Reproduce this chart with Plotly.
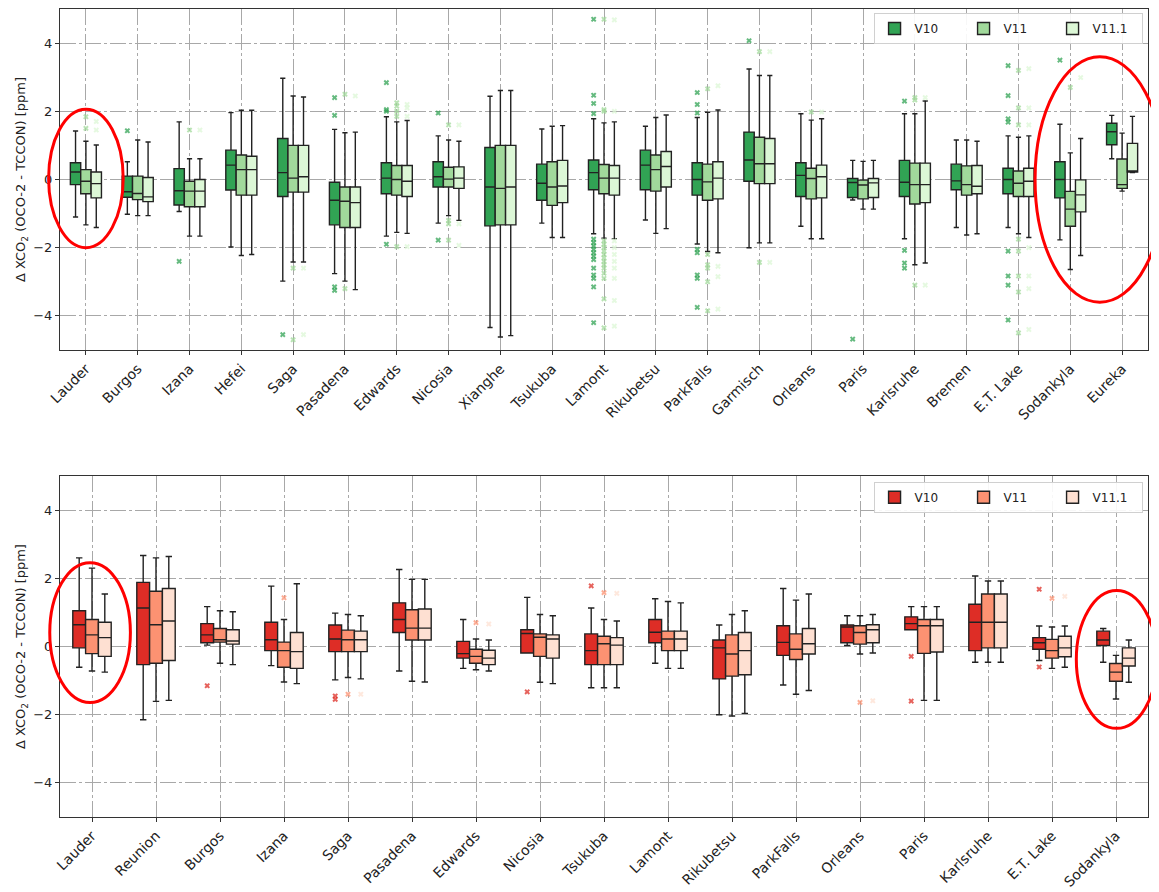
import plotly.graph_objects as go

# ---------------- DATA ----------------
versions = ["V10", "V11", "V11.1"]
greens = ["#31a354", "#a1d99b", "#dcf7d6"]
reds = ["#de2d26", "#fc9272", "#fee0d2"]

top_stations = ["Lauder", "Burgos", "Izana", "Hefei", "Saga", "Pasadena", "Edwards", "Nicosia",
                "Xianghe", "Tsukuba", "Lamont", "Rikubetsu", "ParkFalls", "Garmisch", "Orleans",
                "Paris", "Karlsruhe", "Bremen", "E.T. Lake", "Sodankyla", "Eureka"]

top_v10_q1 = [-0.15, -0.52, -0.75, -0.31, -0.50, -1.33, -0.42, -0.22, -1.36, -0.61, -0.30, -0.30, -0.46, -0.05, -0.50, -0.53, -0.50, -0.30, -0.42, -0.54, 1.02]
top_v10_med = [0.22, -0.36, -0.33, 0.42, 0.20, -0.61, 0.04, 0.08, -0.22, -0.11, 0.20, 0.42, 0.00, 0.57, 0.12, -0.09, -0.08, -0.04, 0.00, 0.00, 1.40]
top_v10_q3 = [0.49, 0.10, 0.32, 0.86, 1.20, -0.08, 0.49, 0.52, 0.94, 0.45, 0.57, 0.86, 0.49, 1.39, 0.49, 0.03, 0.56, 0.45, 0.33, 0.52, 1.65]
top_v10_lo = [-1.10, -1.02, -0.94, -1.98, -2.98, -2.76, -1.66, -1.28, -4.34, -1.28, -1.59, -1.19, -1.89, -2.00, -1.37, -0.60, -1.74, -1.41, -1.41, -1.77, 0.61]
top_v10_hi = [1.42, 0.52, 1.69, 1.96, 2.97, 1.47, 1.84, 1.28, 2.44, 1.48, 1.78, 1.56, 1.82, 3.24, 1.93, 0.56, 1.93, 1.16, 1.28, 1.62, 1.88]
top_v10_out = [[], [1.43], [-2.4], [], [-4.55], [2.4, 1.88, -3.15, -3.25], [2.84, 2.05, 2.0, -1.9],
               [1.95, -1.78], [], [],
               [4.7, 2.47, 2.23, 1.93, -1.75, -1.85, -1.95, -2.05, -2.15, -2.25, -2.35, -2.6, -2.8, -2.9, -3.15, -4.2],
               [], [2.55, 2.2, 1.95, -2.05, -2.15, -2.8, -2.9, -3.75], [4.07], [], [-4.68],
               [2.3, -2.08, -2.45, -2.6], [], [3.34, 2.46, 1.78, 1.68, -2.1, -2.83, -3.1, -4.12], [3.5], []]

top_v11_q1 = [-0.42, -0.59, -0.80, -0.46, -0.37, -1.41, -0.46, -0.22, -1.33, -0.76, -0.42, -0.34, -0.61, -0.12, -0.57, -0.57, -0.72, -0.46, -0.50, -1.37, -0.26]
top_v11_med = [-0.05, -0.41, -0.34, 0.29, 0.04, -0.64, 0.00, 0.01, -0.26, -0.22, 0.04, 0.29, -0.07, 0.46, 0.03, -0.16, -0.15, -0.15, -0.11, -0.87, -0.15]
top_v11_q3 = [0.29, 0.10, -0.05, 0.72, 1.00, -0.22, 0.41, 0.36, 1.00, 0.52, 0.44, 0.72, 0.45, 1.24, 0.33, -0.02, 0.48, 0.40, 0.25, -0.35, 0.60]
top_v11_lo = [-1.33, -1.06, -1.66, -2.23, -2.42, -2.98, -1.55, -1.06, -4.62, -1.70, -1.72, -1.58, -2.11, -1.86, -1.74, -0.87, -2.50, -1.63, -1.59, -2.64, -0.34]
top_v11_hi = [1.12, 1.16, 0.61, 2.03, 2.45, 1.37, 1.69, 1.16, 2.61, 1.56, 1.66, 1.82, 1.97, 3.05, 1.74, 0.53, 1.93, 1.16, 1.24, 0.78, 1.36]
top_v11_out = [[1.84, 1.5], [], [1.45], [], [-2.6, -4.7], [2.5, -3.2], [2.25, 2.15, 2.0, 1.85, -1.97],
               [1.6, -1.2, -1.3, -1.78], [], [],
               [4.7, 2.05, 2.0, -1.8, -1.9, -2.0, -2.1, -2.2, -2.3, -2.4, -2.5, -2.6, -2.75, -2.9, -3.5, -4.35],
               [], [2.66, -2.2, -2.5, -2.6, -3.0, -3.85], [3.75, -2.43], [1.98], [],
               [2.4, 2.33, -3.1], [], [3.2, 2.1, 1.6, -1.75, -2.1, -2.83, -3.3, -4.5], [2.7], []]

top_v111_q1 = [-0.54, -0.65, -0.80, -0.46, -0.37, -1.41, -0.50, -0.26, -1.33, -0.68, -0.46, -0.22, -0.57, -0.12, -0.54, -0.53, -0.68, -0.42, -0.50, -0.95, 0.22]
top_v111_med = [-0.12, -0.51, -0.34, 0.29, 0.08, -0.68, -0.05, 0.04, -0.22, -0.19, 0.04, 0.38, 0.04, 0.46, 0.08, -0.10, -0.15, -0.20, -0.05, -0.45, 0.23]
top_v111_q3 = [0.22, 0.06, 0.00, 0.68, 1.00, -0.22, 0.41, 0.37, 1.00, 0.56, 0.41, 0.82, 0.52, 1.20, 0.42, 0.03, 0.48, 0.41, 0.33, -0.01, 1.06]
top_v111_lo = [-1.41, -1.06, -1.66, -2.20, -2.42, -3.23, -1.58, -1.20, -4.58, -1.70, -1.74, -1.44, -2.15, -1.86, -1.74, -0.87, -2.45, -1.59, -1.70, -2.23, 0.20]
top_v111_hi = [1.01, 1.10, 0.61, 2.03, 2.42, 1.39, 1.73, 1.12, 2.61, 1.58, 1.69, 1.89, 2.04, 3.05, 1.78, 0.56, 2.30, 1.12, 1.28, 1.20, 1.85]
top_v111_out = [[1.7, 1.45], [], [1.45], [], [-2.6, -4.55], [2.45], [2.2, 2.1, 1.85, -1.97],
                [1.6, -1.3, -1.93], [], [],
                [4.68, 2.0, -1.8, -2.0, -2.2, -2.4, -2.6, -2.9, -3.55, -4.3],
                [], [2.75, -2.55, -2.85, -3.8], [3.75, -2.43], [1.98], [],
                [2.4, -3.1], [], [3.25, 2.1, 1.6, -2.0, -2.83, -3.2, -4.4], [2.99], []]

bot_stations = ["Lauder", "Reunion", "Burgos", "Izana", "Saga", "Pasadena", "Edwards", "Nicosia",
                "Tsukuba", "Lamont", "Rikubetsu", "ParkFalls", "Orleans", "Paris", "Karlsruhe",
                "E.T. Lake", "Sodankyla"]

bot_v10_q1 = [-0.04, -0.53, 0.11, -0.12, -0.15, 0.41, -0.34, -0.19, -0.53, 0.11, -0.95, -0.26, 0.11, 0.49, -0.12, -0.08, 0.03]
bot_v10_med = [0.64, 1.13, 0.34, 0.20, 0.22, 0.79, -0.21, 0.38, -0.12, 0.42, -0.04, 0.12, 0.57, 0.67, 0.71, 0.11, 0.19]
bot_v10_q3 = [1.05, 1.88, 0.67, 0.71, 0.63, 1.28, 0.15, 0.49, 0.37, 0.79, 0.19, 0.61, 0.63, 0.87, 1.24, 0.26, 0.45]
bot_v10_lo = [-0.61, -2.15, 0.04, -0.56, -0.98, -0.72, -0.64, -0.19, -1.21, -0.49, -2.00, -1.13, 0.03, 0.49, -0.46, -0.41, -0.46]
bot_v10_hi = [2.60, 2.67, 1.17, 1.77, 0.98, 2.26, 0.79, 1.44, 1.13, 1.40, 0.63, 1.70, 0.90, 1.17, 2.07, 0.60, 0.53]
bot_v10_out = [[], [], [-1.15], [], [-1.45, -1.55], [], [], [-1.33], [1.78], [], [], [], [], [-0.29, -1.6], [], [1.68, -0.6], []]

bot_v11_q1 = [-0.21, -0.49, 0.13, -0.61, -0.15, 0.19, -0.49, -0.29, -0.53, -0.12, -0.87, -0.38, 0.07, -0.20, -0.04, -0.34, -1.02]
bot_v11_med = [0.34, 0.64, 0.20, -0.12, 0.20, 0.54, -0.29, 0.27, 0.08, 0.22, -0.22, -0.08, 0.41, 0.61, 0.71, -0.12, -0.75]
bot_v11_q3 = [0.79, 1.62, 0.53, 0.13, 0.48, 1.08, -0.08, 0.37, 0.30, 0.45, 0.34, 0.37, 0.61, 0.79, 1.54, 0.21, -0.50]
bot_v11_lo = [-0.72, -1.61, -0.49, -1.04, -0.91, -1.02, -0.68, -1.05, -1.21, -0.64, -2.04, -1.40, -0.22, -1.58, -0.46, -0.64, -1.54]
bot_v11_hi = [2.30, 2.60, 1.05, 0.79, 0.94, 1.97, 0.22, 0.94, 0.79, 1.32, 0.94, 1.36, 0.90, 1.17, 1.92, 0.57, -0.26]
bot_v11_out = [[], [], [], [1.43], [-1.4], [], [0.7], [], [1.58], [], [], [], [-1.64], [], [], [1.41], []]

bot_v111_q1 = [-0.29, -0.41, 0.07, -0.64, -0.15, 0.19, -0.53, -0.34, -0.53, -0.12, -0.83, -0.22, 0.11, -0.16, -0.04, -0.30, -0.57]
bot_v111_med = [0.26, 0.75, 0.16, -0.15, 0.20, 0.54, -0.34, 0.22, 0.04, 0.22, -0.12, 0.08, 0.49, 0.61, 0.71, -0.04, -0.34]
bot_v111_q3 = [0.71, 1.70, 0.49, 0.41, 0.45, 1.10, -0.11, 0.34, 0.26, 0.45, 0.41, 0.53, 0.64, 0.79, 1.54, 0.30, -0.04]
bot_v111_lo = [-0.75, -1.58, -0.53, -1.09, -0.95, -1.04, -0.72, -1.09, -1.21, -0.64, -1.96, -1.29, -0.19, -1.58, -0.46, -0.61, -1.05]
bot_v111_hi = [1.54, 2.64, 1.02, 1.84, 0.90, 1.97, 0.19, 0.90, 0.75, 1.28, 1.05, 1.54, 0.94, 1.17, 1.92, 0.60, 0.19]
bot_v111_out = [[], [], [], [], [-1.4], [], [0.66], [], [1.56], [], [], [], [-1.59], [], [], [1.47], []]

# highlight ellipses: (center station index, half width in categories, y center, y half-height)
top_ellipses = [(0.0, 0.72, 0.03, 2.03), (19.57, 1.25, 0.0, 3.6)]
bot_ellipses = [(-0.03, 0.63, 0.41, 2.05), (16.01, 0.63, -0.38, 2.02)]

# ---------------- FIGURE ----------------
offsets = [-0.2, 0.0, 0.2]
box_w = 0.2
top_dom = [0.578, 1.0]
bot_dom = [0.0, 0.422]
yrange = [-5, 5]

top_sets = [(top_v10_q1, top_v10_med, top_v10_q3, top_v10_lo, top_v10_hi, top_v10_out),
            (top_v11_q1, top_v11_med, top_v11_q3, top_v11_lo, top_v11_hi, top_v11_out),
            (top_v111_q1, top_v111_med, top_v111_q3, top_v111_lo, top_v111_hi, top_v111_out)]
bot_sets = [(bot_v10_q1, bot_v10_med, bot_v10_q3, bot_v10_lo, bot_v10_hi, bot_v10_out),
            (bot_v11_q1, bot_v11_med, bot_v11_q3, bot_v11_lo, bot_v11_hi, bot_v11_out),
            (bot_v111_q1, bot_v111_med, bot_v111_q3, bot_v111_lo, bot_v111_hi, bot_v111_out)]

fig = go.Figure()


def add_panel(sets, colors, xaxis, yaxis, legend):
    for k, (q1, med, q3, lo, hi, out) in enumerate(sets):
        xs = [i + offsets[k] for i in range(len(q1))]
        fig.add_trace(go.Box(
            x=xs, q1=q1, median=med, q3=q3, lowerfence=lo, upperfence=hi,
            width=box_w, whiskerwidth=0.5, boxpoints=False,
            fillcolor=colors[k], line=dict(color="#222222", width=1.4),
            name=versions[k], legend=legend, xaxis=xaxis, yaxis=yaxis,
            hoverinfo="skip"))
        ox, oy = [], []
        for i, vals in enumerate(out):
            for v in vals:
                ox.append(i + offsets[k])
                oy.append(v)
        fig.add_trace(go.Scatter(
            x=ox, y=oy, mode="markers", showlegend=False, xaxis=xaxis, yaxis=yaxis,
            marker=dict(symbol="x", size=5, color=colors[k], opacity=0.75,
                        line=dict(width=0)),
            hoverinfo="skip"))


add_panel(top_sets, greens, "x", "y", "legend")
add_panel(bot_sets, reds, "x2", "y2", "legend2")

griddash = "16px,3px,3px,3px"
axis_common = dict(showline=True, mirror=True, linecolor="#333333", linewidth=1.2,
                   ticks="outside", ticklen=4, tickcolor="#333333", automargin=False,
                   showgrid=True, gridcolor="#a8a8a8", gridwidth=1, griddash=griddash,
                   zeroline=False)
xtick_font = dict(size=14, color="#222222")
ytick_font = dict(size=13, color="#222222")

ytitle = "Δ XCO<sub>2</sub> (OCO-2 - TCCON) [ppm]"

# the page body keeps an 8px margin, so the figure is sized to sit inside the window
fig.update_layout(
    width=1151, height=884,
    margin=dict(l=52, r=11, t=1, b=75),
    plot_bgcolor="white", paper_bgcolor="white",
    font=dict(family="DejaVu Sans", size=13, color="#222222"),
    boxmode="overlay",
    xaxis=dict(domain=[0, 1], range=[-0.5, len(top_stations) - 0.5],
               tickvals=list(range(len(top_stations))), ticktext=top_stations,
               tickangle=-45, anchor="y", tickfont=xtick_font, **axis_common),
    yaxis=dict(domain=top_dom, range=yrange, tickvals=[-4, -2, 0, 2, 4],
               ticktext=["−4", "−2", "0", "2", "4"], anchor="x", tickfont=ytick_font,
               title=dict(text=ytitle, font=dict(size=13), standoff=4), **axis_common),
    xaxis2=dict(domain=[0, 1], range=[-0.5, len(bot_stations) - 0.5],
                tickvals=list(range(len(bot_stations))), ticktext=bot_stations,
                tickangle=-45, anchor="y2", tickfont=xtick_font, **axis_common),
    yaxis2=dict(domain=bot_dom, range=yrange, tickvals=[-4, -2, 0, 2, 4],
                ticktext=["−4", "−2", "0", "2", "4"], anchor="x2", tickfont=ytick_font,
                title=dict(text=ytitle, font=dict(size=13), standoff=4), **axis_common),
    legend=dict(orientation="h", x=0.995, y=0.995, xanchor="right", yanchor="top",
                bgcolor="rgba(255,255,255,0.9)", bordercolor="#d0d0d0", borderwidth=1,
                font=dict(size=12), itemwidth=30, entrywidth=44, entrywidthmode="pixels"),
    legend2=dict(orientation="h", x=0.995, y=0.415, xanchor="right", yanchor="top",
                 bgcolor="rgba(255,255,255,0.9)", bordercolor="#d0d0d0", borderwidth=1,
                 font=dict(size=12), itemwidth=30, entrywidth=44, entrywidthmode="pixels"),
    showlegend=True,
)


def add_ellipses(ells, n, dom):
    for cx, hw, cy, hh in ells:
        px0 = (cx - hw + 0.5) / n
        px1 = (cx + hw + 0.5) / n
        py0 = dom[0] + (cy - hh - yrange[0]) / (yrange[1] - yrange[0]) * (dom[1] - dom[0])
        py1 = dom[0] + (cy + hh - yrange[0]) / (yrange[1] - yrange[0]) * (dom[1] - dom[0])
        fig.add_shape(type="circle", xref="paper", yref="paper",
                      x0=px0, x1=px1, y0=py0, y1=py1,
                      line=dict(color="#ff0000", width=3), layer="above")


add_ellipses(top_ellipses, len(top_stations), top_dom)
add_ellipses(bot_ellipses, len(bot_stations), bot_dom)

fig.write_html("out.html")
